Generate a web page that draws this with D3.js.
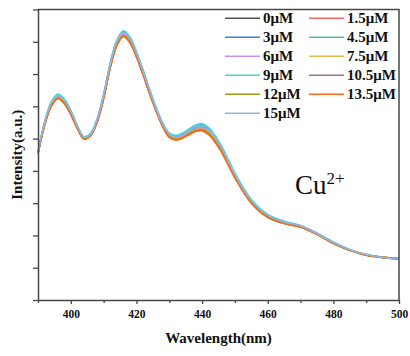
<!DOCTYPE html>
<html>
<head>
<meta charset="utf-8">
<script src="https://cdn.jsdelivr.net/npm/d3@7"></script>
<style>
  html, body { margin: 0; padding: 0; background: #fff; }
  svg { display: block; }
</style>
</head>
<body>
<div id="chart"></div>
<script>
"use strict";
// wavelength grid (nm)
const WAVELENGTHS = [390, 392, 394, 396, 398, 400, 402, 404, 406, 408, 410, 412, 414, 416, 418, 420, 422, 424, 426, 428, 430,
  432, 434, 436, 438, 440, 442, 444, 446, 448, 450, 455, 460, 465, 470, 475, 480, 485, 490, 495, 500];

const SERIES_NAMES = ['0μM', '1.5μM', '3μM', '4.5μM', '6μM', '7.5μM', '9μM', '10.5μM', '12μM', '13.5μM', '15μM'];
const SERIES_COLORS = ['#555555', '#f26b6b', '#3f7fe0', '#4cbf86', '#cf8ff0', '#e9b949', '#3fdcdc', '#9e7b7b', '#9c9a12', '#ff6a1a', '#8fb5e0'];

// intensity (a.u.), one array per Cu2+ concentration
const I_0 = [4.55, 5.45, 6.05, 6.30, 6.15, 5.80, 5.35, 5.02, 5.12, 5.55, 6.30, 7.25, 7.95, 8.24, 8.05, 7.60, 7.05, 6.45, 5.90, 5.42, 5.10,
  5.02, 5.08, 5.20, 5.31, 5.34, 5.22, 4.98, 4.65, 4.25, 3.85, 3.05, 2.60, 2.40, 2.28, 2.05, 1.77, 1.55, 1.40, 1.32, 1.28];
const I_1_5 = [4.54, 5.43, 6.03, 6.28, 6.13, 5.78, 5.33, 5.01, 5.11, 5.53, 6.28, 7.23, 7.92, 8.21, 8.02, 7.57, 7.03, 6.43, 5.88, 5.40, 5.08,
  5.00, 5.05, 5.17, 5.28, 5.30, 5.18, 4.95, 4.62, 4.22, 3.83, 3.03, 2.58, 2.39, 2.27, 2.04, 1.76, 1.55, 1.40, 1.32, 1.28];
const I_3 = [4.57, 5.49, 6.11, 6.36, 6.21, 5.86, 5.39, 5.05, 5.15, 5.59, 6.36, 7.31, 8.02, 8.32, 8.13, 7.67, 7.11, 6.51, 5.95, 5.47, 5.16,
  5.08, 5.15, 5.28, 5.40, 5.44, 5.32, 5.07, 4.73, 4.32, 3.91, 3.10, 2.64, 2.43, 2.30, 2.07, 1.79, 1.56, 1.41, 1.32, 1.28];
const I_4_5 = [4.55, 5.46, 6.06, 6.32, 6.17, 5.81, 5.36, 5.03, 5.13, 5.56, 6.31, 7.27, 7.97, 8.26, 8.07, 7.62, 7.07, 6.46, 5.91, 5.43, 5.11,
  5.04, 5.10, 5.22, 5.33, 5.36, 5.24, 5.00, 4.67, 4.27, 3.87, 3.06, 2.61, 2.41, 2.29, 2.05, 1.77, 1.55, 1.40, 1.32, 1.28];
const I_6 = [4.55, 5.45, 6.04, 6.29, 6.14, 5.80, 5.35, 5.02, 5.12, 5.55, 6.29, 7.24, 7.94, 8.23, 8.04, 7.59, 7.05, 6.45, 5.90, 5.42, 5.10,
  5.02, 5.07, 5.19, 5.30, 5.33, 5.21, 4.97, 4.65, 4.25, 3.85, 3.05, 2.60, 2.40, 2.28, 2.05, 1.77, 1.55, 1.40, 1.32, 1.28];
const I_7_5 = [4.54, 5.43, 6.02, 6.27, 6.12, 5.77, 5.33, 5.00, 5.10, 5.53, 6.27, 7.22, 7.91, 8.20, 8.01, 7.56, 7.02, 6.42, 5.88, 5.40, 5.07,
  4.99, 5.04, 5.16, 5.27, 5.29, 5.17, 4.94, 4.61, 4.21, 3.82, 3.03, 2.58, 2.38, 2.27, 2.04, 1.76, 1.55, 1.40, 1.32, 1.28];
const I_9 = [4.57, 5.50, 6.12, 6.38, 6.23, 5.87, 5.40, 5.06, 5.16, 5.60, 6.37, 7.33, 8.04, 8.34, 8.15, 7.69, 7.13, 6.52, 5.96, 5.48, 5.17,
  5.10, 5.17, 5.30, 5.42, 5.46, 5.34, 5.09, 4.75, 4.34, 3.93, 3.11, 2.65, 2.44, 2.31, 2.07, 1.79, 1.56, 1.41, 1.32, 1.28];
const I_10_5 = [4.54, 5.41, 6.00, 6.24, 6.09, 5.75, 5.31, 4.99, 5.09, 5.51, 6.25, 7.19, 7.89, 8.17, 7.98, 7.54, 6.99, 6.40, 5.86, 5.38, 5.05,
  4.96, 5.02, 5.13, 5.23, 5.26, 5.14, 4.90, 4.58, 4.19, 3.79, 3.01, 2.56, 2.37, 2.26, 2.04, 1.76, 1.54, 1.39, 1.32, 1.28];
const I_12 = [4.54, 5.42, 6.01, 6.26, 6.11, 5.76, 5.32, 5.00, 5.10, 5.52, 6.26, 7.21, 7.90, 8.19, 8.00, 7.55, 7.01, 6.41, 5.87, 5.39, 5.06,
  4.98, 5.03, 5.15, 5.25, 5.28, 5.16, 4.92, 4.60, 4.20, 3.81, 3.02, 2.57, 2.38, 2.26, 2.04, 1.76, 1.54, 1.39, 1.32, 1.28];
const I_13_5 = [4.53, 5.41, 5.99, 6.24, 6.09, 5.74, 5.31, 4.99, 5.09, 5.51, 6.24, 7.19, 7.88, 8.16, 7.97, 7.53, 6.99, 6.39, 5.85, 5.37, 5.04,
  4.96, 5.01, 5.12, 5.22, 5.24, 5.12, 4.89, 4.57, 4.18, 3.79, 3.00, 2.56, 2.37, 2.26, 2.03, 1.75, 1.54, 1.39, 1.32, 1.28];
const I_15 = [4.56, 5.48, 6.09, 6.34, 6.19, 5.84, 5.38, 5.04, 5.14, 5.58, 6.34, 7.29, 8.00, 8.29, 8.10, 7.65, 7.09, 6.49, 5.93, 5.45, 5.14,
  5.06, 5.13, 5.25, 5.37, 5.40, 5.28, 5.04, 4.70, 4.30, 3.89, 3.08, 2.63, 2.42, 2.30, 2.06, 1.78, 1.56, 1.41, 1.32, 1.28];

const SERIES_VALUES = [I_0, I_1_5, I_3, I_4_5, I_6, I_7_5, I_9, I_10_5, I_12, I_13_5, I_15];

const X_MAJOR_TICKS = [400, 420, 440, 460, 480, 500];
const X_MINOR_TICKS = [390, 410, 430, 450, 470, 490];
const Y_TICKS = [0, 1, 2, 3, 4, 5, 6, 7, 8, 9];

const WIDTH = 410;
const HEIGHT = 356;
const MARGIN = { top: 9.5, right: 11, bottom: 56, left: 38 };
const AXIS_COLOR = '#474747';
const FONT = '"Liberation Serif", "Times New Roman", serif';

const svg = d3.select('#chart')
  .append('svg')
  .attr('width', WIDTH)
  .attr('height', HEIGHT);

const innerW = WIDTH - MARGIN.left - MARGIN.right;
const innerH = HEIGHT - MARGIN.top - MARGIN.bottom;

const g = svg.append('g')
  .attr('transform', `translate(${MARGIN.left},${MARGIN.top})`);

const xScale = d3.scaleLinear().domain([390, 500]).range([0, innerW]);
const yScale = d3.scaleLinear().domain([0, 9]).range([innerH, 0]);

function drawSeries() {
  const line = d3.line()
    .x((d) => xScale(d[0]))
    .y((d) => yScale(d[1]))
    .curve(d3.curveCatmullRom.alpha(0.5));
  SERIES_VALUES.forEach((vals, i) => {
    const pts = WAVELENGTHS.map((w, j) => [w, vals[j]]);
    g.append('path')
      .datum(pts)
      .attr('d', line)
      .attr('fill', 'none')
      .attr('stroke', SERIES_COLORS[i])
      .attr('stroke-width', 1.6);
  });
}

function drawAxes() {
  const xAxis = d3.axisBottom(xScale)
    .tickValues(X_MAJOR_TICKS)
    .tickSize(4)
    .tickSizeOuter(0)
    .tickPadding(6)
    .tickFormat(d3.format('d'));
  const xAxisG = g.append('g')
    .attr('transform', `translate(0,${innerH})`)
    .call(xAxis);
  xAxisG.selectAll('text')
    .attr('font-family', FONT)
    .attr('font-weight', 'bold')
    .attr('font-size', '11.5px')
    .attr('fill', '#111');

  const xMinor = d3.axisBottom(xScale)
    .tickValues(X_MINOR_TICKS)
    .tickSize(3)
    .tickSizeOuter(0)
    .tickFormat('');
  const xMinorG = g.append('g')
    .attr('transform', `translate(0,${innerH})`)
    .call(xMinor);
  xMinorG.select('.domain').remove();

  const yAxis = d3.axisLeft(yScale)
    .tickValues(Y_TICKS)
    .tickSize(5)
    .tickSizeOuter(0)
    .tickFormat('');
  const yAxisG = g.append('g').call(yAxis);

  [xAxisG, xMinorG, yAxisG].forEach((ax) => {
    ax.selectAll('line').attr('stroke', AXIS_COLOR).attr('stroke-width', 1.3);
    ax.select('.domain').attr('stroke', AXIS_COLOR).attr('stroke-width', 1.5);
  });

  // top and right frame
  g.append('path')
    .attr('d', `M0,0H${innerW}V${innerH}`)
    .attr('fill', 'none')
    .attr('stroke', AXIS_COLOR)
    .attr('stroke-width', 1.5);

  svg.append('text')
    .attr('x', MARGIN.left + innerW / 2)
    .attr('y', 343)
    .attr('text-anchor', 'middle')
    .attr('font-family', FONT)
    .attr('font-weight', 'bold')
    .attr('font-size', '15px')
    .attr('fill', '#111')
    .text('Wavelength(nm)');

  svg.append('text')
    .attr('transform', `translate(22,${MARGIN.top + innerH / 2}) rotate(-90)`)
    .attr('text-anchor', 'middle')
    .attr('font-family', FONT)
    .attr('font-weight', 'bold')
    .attr('font-size', '15px')
    .attr('fill', '#111')
    .text('Intensity(a.u.)');
}

function drawLegend() {
  const colX = [225, 309];
  const rowY0 = 18.3;
  const rowH = 19;
  SERIES_NAMES.forEach((name, i) => {
    const col = i % 2;
    const row = Math.floor(i / 2);
    const x = colX[col];
    const y = rowY0 + row * rowH;
    svg.append('line')
      .attr('x1', x)
      .attr('x2', x + 35)
      .attr('y1', y)
      .attr('y2', y)
      .attr('stroke', SERIES_COLORS[i])
      .attr('stroke-width', 1.6);
    svg.append('text')
      .attr('x', x + 38)
      .attr('y', y + 5)
      .attr('font-family', FONT)
      .attr('font-weight', 'bold')
      .attr('font-size', '15px')
      .attr('fill', '#111')
      .text(name);
  });
}

function drawIonLabel() {
  const t = svg.append('text')
    .attr('x', 295)
    .attr('y', 194)
    .attr('font-family', FONT)
    .attr('font-size', '27px')
    .attr('fill', '#111');
  t.append('tspan').text('Cu');
  t.append('tspan')
    .attr('dy', -10)
    .attr('font-size', '17px')
    .text('2+');
}

drawSeries();
drawAxes();
drawLegend();
drawIonLabel();
</script>
</body>
</html>
